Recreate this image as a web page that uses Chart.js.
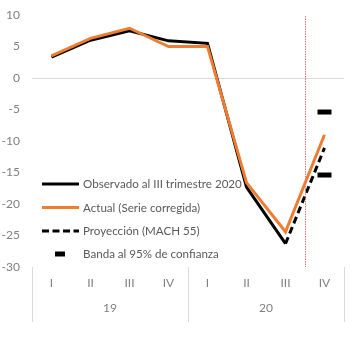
<!DOCTYPE html>
<html>
<head>
<meta charset="utf-8">
<script src="https://cdn.jsdelivr.net/npm/chart.js@4.4.1/dist/chart.umd.min.js"></script>
<style>
  html, body { margin: 0; padding: 0; background: #ffffff; }
  #wrap { position: relative; width: 356px; height: 337px; }
</style>
</head>
<body>
<div id="wrap"><canvas id="c"></canvas></div>
<script>
// Quarterly GDP growth, 2019-2020 (%)
const quarters = ['I', 'II', 'III', 'IV', 'I', 'II', 'III', 'IV'];
const years = ['19', '20'];
const yTicks = [10, 5, 0, -5, -10, -15, -20, -25, -30];

const observed   = [3.3, 6.0, 7.5, 5.9, 5.5, -17.3, -26.3, null];
const actual     = [3.5, 6.3, 7.9, 5.0, 5.0, -16.6, -24.4, -9.0];
const projection = [null, null, null, null, null, null, -26.3, -11.1];
const bandUpper  = [null, null, null, null, null, null, null, -5.4];
const bandLower  = [null, null, null, null, null, null, null, -15.4];

const legendLabels = [
  'Observado al III trimestre 2020',
  'Actual (Serie corregida)',
  'Proyección (MACH 55)',
  'Banda al 95% de confianza'
];

const BLACK = '#000000';
const ORANGE = '#ED7D31';
const FONT = 'Lato, "Open Sans", sans-serif';
const TICK_COLOR = '#808080';
const LEGEND_COLOR = '#595959';

// Group separators on the two-level x axis, the forecast marker and the legend
const decorations = {
  id: 'decorations',
  afterDraw(chart) {
    const ctx = chart.ctx;
    const area = chart.chartArea;
    const x = chart.scales.x;
    const x2 = chart.scales.x2;

    // separators between year groups
    ctx.save();
    ctx.strokeStyle = '#d9d9d9';
    ctx.lineWidth = 1;
    const mid = (x.left + x.right) / 2;
    [x.left, mid, x.right].forEach(px => {
      const xx = Math.round(px) + 0.5;
      ctx.beginPath();
      ctx.moveTo(xx, area.bottom);
      ctx.lineTo(xx, x2.bottom);
      ctx.stroke();
    });
    ctx.restore();

    // dotted line between the last observed quarter and the forecast
    const xv = (x.getPixelForValue(6) + x.getPixelForValue(7)) / 2;
    ctx.save();
    ctx.strokeStyle = '#E57373';
    ctx.lineWidth = 1;
    ctx.setLineDash([1.5, 1]);
    ctx.beginPath();
    ctx.moveTo(Math.round(xv) + 0.5, area.top + 1);
    ctx.lineTo(Math.round(xv) + 0.5, area.bottom);
    ctx.stroke();
    ctx.restore();

    // legend
    const lx0 = area.left + 10, lx1 = area.left + 47;
    const tx = area.left + 51;
    const rows = [184, 207.5, 231, 254];
    ctx.save();
    ctx.font = '11.6px ' + FONT;
    ctx.fillStyle = LEGEND_COLOR;
    ctx.textBaseline = 'middle';
    ctx.textAlign = 'left';
    rows.forEach((y, i) => {
      ctx.save();
      ctx.strokeStyle = i === 1 ? ORANGE : BLACK;
      ctx.lineWidth = 3;
      if (i === 2) ctx.setLineDash([7, 3.5]);
      ctx.beginPath();
      if (i === 3) {
        ctx.lineWidth = 5;
        ctx.moveTo(area.left + 23, y);
        ctx.lineTo(area.left + 33, y);
      } else {
        ctx.moveTo(lx0, y);
        ctx.lineTo(lx1, y);
      }
      ctx.stroke();
      ctx.restore();
      ctx.fillText(legendLabels[i], tx, y + 0.5);
    });
    ctx.restore();
  }
};

new Chart(document.getElementById('c'), {
  type: 'line',
  data: {
    labels: quarters,
    datasets: [
      {
        label: legendLabels[0],
        data: observed,
        borderColor: BLACK,
        borderWidth: 3,
        pointRadius: 0,
        tension: 0,
        order: 2
      },
      {
        label: legendLabels[1],
        data: actual,
        borderColor: ORANGE,
        borderWidth: 3,
        pointRadius: 0,
        tension: 0,
        order: 1
      },
      {
        label: legendLabels[2],
        data: projection,
        borderColor: BLACK,
        borderWidth: 3,
        borderDash: [7, 4],
        pointRadius: 0,
        tension: 0,
        order: 0
      },
      {
        label: legendLabels[3],
        data: bandUpper,
        showLine: false,
        pointStyle: 'line',
        pointRadius: 7,
        pointBorderWidth: 5,
        pointBorderColor: BLACK,
        borderColor: BLACK,
        order: 0
      },
      {
        label: legendLabels[3],
        data: bandLower,
        showLine: false,
        pointStyle: 'line',
        pointRadius: 7,
        pointBorderWidth: 5,
        pointBorderColor: BLACK,
        borderColor: BLACK,
        order: 0
      }
    ]
  },
  options: {
    responsive: true,
    maintainAspectRatio: false,
    animation: false,
    layout: { padding: { top: 15, right: 6, bottom: 15, left: 0 } },
    plugins: {
      legend: { display: false },
      tooltip: { enabled: false }
    },
    scales: {
      x: {
        type: 'category',
        offset: true,
        grid: { display: false, drawTicks: false },
        border: { display: false },
        ticks: {
          color: TICK_COLOR,
          font: { family: FONT, size: 12 },
          padding: 9,
          maxRotation: 0,
          autoSkip: false
        },
        afterFit(scale) { scale.height = 29; }
      },
      x2: {
        type: 'category',
        position: 'bottom',
        labels: years,
        offset: true,
        grid: { display: false, drawTicks: false },
        border: { display: false },
        ticks: {
          color: TICK_COLOR,
          font: { family: FONT, size: 12 },
          padding: 5,
          maxRotation: 0
        },
        afterFit(scale) { scale.height = 26; }
      },
      y: {
        min: -30,
        max: 10,
        afterBuildTicks(scale) {
          scale.ticks = yTicks.map(v => ({ value: v }));
        },
        grid: {
          drawTicks: false,
          color: ctx => (ctx.tick && ctx.tick.value === 0 ? '#d9d9d9' : 'rgba(0,0,0,0)'),
          lineWidth: 1
        },
        border: { display: false },
        ticks: {
          color: TICK_COLOR,
          font: { family: FONT, size: 12 },
          padding: 12
        },
        afterFit(scale) {
          scale.width = 32;
          scale.paddingTop = 0;
          scale.paddingBottom = 0;
        }
      }
    }
  },
  plugins: [decorations]
});
</script>
</body>
</html>
